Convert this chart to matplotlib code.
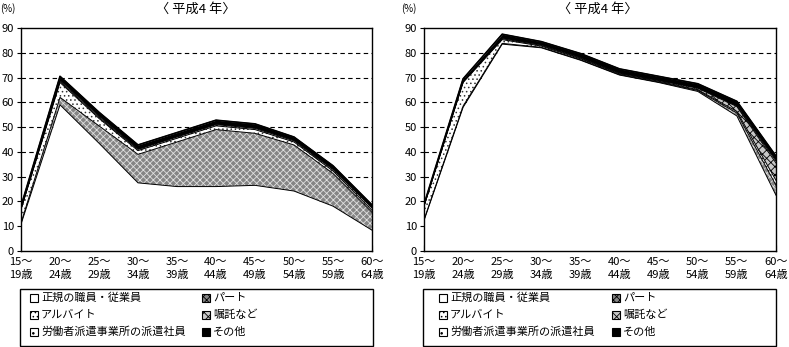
import matplotlib
matplotlib.use("Agg")
import matplotlib.pyplot as plt
from matplotlib.patches import Rectangle
import numpy as np

plt.rcParams['font.family'] = ['Noto Sans CJK JP', 'DejaVu Sans']
plt.rcParams['hatch.linewidth'] = 0.6

ages = ["15～\n19歳", "20～\n24歳", "25～\n29歳", "30～\n34歳", "35～\n39歳",
        "40～\n44歳", "45～\n49歳", "50～\n54歳", "55～\n59歳", "60～\n64歳"]
series_names = ["正規の職員・従業員", "パート", "アルバイト", "嘱託など",
                "労働者派遣事業所の派遣社員", "その他"]

# Left chart
left_seiki   = [10.8, 59.0, 43.5, 27.5, 26.0, 26.0, 26.5, 24.2, 18.1, 8.4]
left_part    = [0.5, 3.0, 7.0, 11.5, 18.0, 23.0, 21.0, 18.6, 13.2, 7.2]
left_arbeit  = [5.5, 6.0, 3.0, 1.5, 1.5, 1.5, 1.5, 1.2, 1.0, 0.8]
left_shokutaku = [0.1, 0.5, 0.5, 0.5, 0.5, 0.5, 0.5, 0.5, 0.6, 1.0]
left_haken   = [0.2, 0.5, 0.5, 0.3, 0.3, 0.3, 0.3, 0.3, 0.3, 0.2]
left_other   = [1.0, 1.5, 1.5, 1.5, 1.5, 1.5, 1.5, 1.2, 1.2, 1.0]

# Right chart
right_seiki   = [12.3, 58.0, 83.5, 82.0, 77.0, 71.0, 68.0, 64.4, 54.5, 22.5]
right_part    = [0.3, 0.5, 0.3, 0.2, 0.2, 0.2, 0.2, 0.4, 1.2, 4.0]
right_arbeit  = [5.5, 9.5, 1.5, 0.5, 0.4, 0.3, 0.3, 0.3, 0.6, 2.0]
right_shokutaku = [0.1, 0.3, 0.4, 0.3, 0.3, 0.3, 0.3, 0.6, 2.0, 7.0]
right_haken   = [0.1, 0.2, 0.3, 0.3, 0.3, 0.2, 0.2, 0.2, 0.3, 0.8]
right_other   = [0.5, 1.0, 1.5, 1.2, 1.5, 1.5, 1.5, 1.6, 1.8, 2.0]

title_text = "〈 平成4 年〉"
yticks = [0, 10, 20, 30, 40, 50, 60, 70, 80, 90]

styles = [
    dict(facecolor='white', hatch=None, hc='black'),
    dict(facecolor='#858585', hatch='xxxxx', hc='#e0e0e0'),
    dict(facecolor='white', hatch='....', hc='#333333'),
    dict(facecolor='#c8c8c8', hatch='xxxx', hc='black'),
    dict(facecolor='white', hatch='..', hc='#555555'),
    dict(facecolor='black', hatch=None, hc='black'),
]

W, H = 789, 347
fig = plt.figure(figsize=(W / 100, H / 100), dpi=100)


def draw(axbox, layers, title_x, pct_x):
    ax = fig.add_axes(axbox)
    x = np.arange(len(ages))
    base = np.zeros(len(ages))
    for vals, st in zip(layers, styles):
        top = base + np.array(vals)
        ax.fill_between(x, base, top, facecolor=st['facecolor'], hatch=st['hatch'],
                        edgecolor=st['hc'], linewidth=0, zorder=2)
        ax.plot(x, top, color='black', lw=0.7, zorder=3)
        base = top
    ax.plot(x, base, color='black', lw=1.2, zorder=3)
    ax.set_xlim(0, len(ages) - 1)
    ax.set_ylim(0, 90)
    ax.set_yticks(yticks)
    ax.set_yticklabels([str(v) for v in yticks], fontsize=8)
    ax.set_xticks(x)
    ax.set_xticklabels(ages, fontsize=8, linespacing=1.45)
    ax.tick_params(axis='x', direction='in', length=4, pad=4)
    ax.tick_params(axis='y', direction='out', length=3, pad=2)
    for v in yticks[1:-1]:
        ax.axhline(v, color='black', lw=0.8, ls=(0, (4, 3)), zorder=1)
    for s in ax.spines.values():
        s.set_linewidth(1.0)
    fig.text(title_x / W, 1 - 9 / H, title_text, ha='center', va='center', fontsize=9.5)
    fig.text(pct_x / W, 1 - 9 / H, "(%)", ha='left', va='center', fontsize=7)
    return ax


draw([21 / W, 1 - 251 / H, 351 / W, 223 / H],
     [left_seiki, left_part, left_arbeit, left_shokutaku, left_haken, left_other],
     196, 0)
draw([424 / W, 1 - 251 / H, 352 / W, 223 / H],
     [right_seiki, right_part, right_arbeit, right_shokutaku, right_haken, right_other],
     598, 401)


def legend(bx0, bx1, col1_x, col2_x):
    fig.patches.append(Rectangle((bx0 / W, 1 - 346 / H), (bx1 - bx0) / W, 57 / H,
                                 transform=fig.transFigure, facecolor='none',
                                 edgecolor='black', linewidth=1.0))
    rows_y = [298, 315, 332]
    pos = [(col1_x, rows_y[0]), (col2_x, rows_y[0]),
           (col1_x, rows_y[1]), (col2_x, rows_y[1]),
           (col1_x, rows_y[2]), (col2_x, rows_y[2])]
    for (px, py), name, st in zip(pos, series_names, styles):
        fig.patches.append(Rectangle((px / W, 1 - (py + 4) / H), 8 / W, 8 / H,
                                     transform=fig.transFigure,
                                     facecolor=st['facecolor'], hatch=st['hatch'],
                                     edgecolor='black', linewidth=0.8))
        fig.text((px + 11) / W, 1 - py / H, name, ha='left', va='center', fontsize=8)


legend(20, 373, 30, 202)
legend(423, 776, 439, 612)

fig.savefig("out.png", dpi=100)
